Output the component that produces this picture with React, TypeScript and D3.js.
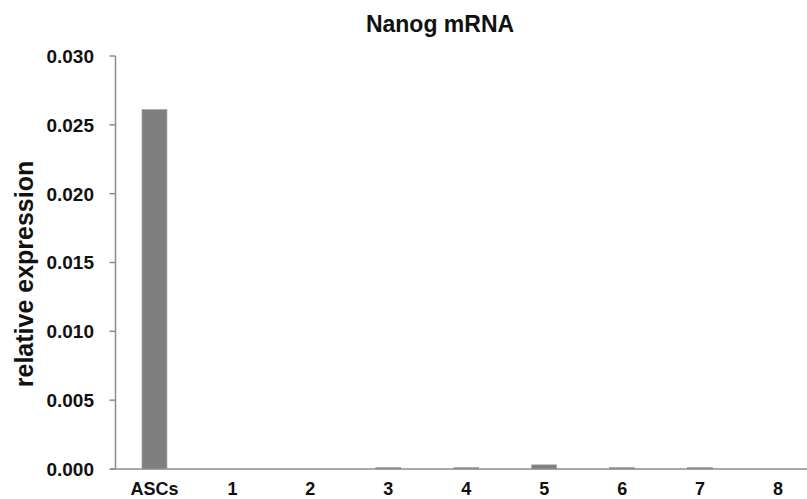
import React from 'react';
import * as d3 from 'd3';

const categories = ['ASCs', '1', '2', '3', '4', '5', '6', '7', '8'];
const values = [0.0261, 0, 0, 0.0001, 0.0001, 0.0003, 0.0001, 0.0001, 0];
const yTicks = [0, 0.005, 0.01, 0.015, 0.02, 0.025, 0.03];

const width = 807;
const height = 499;
// plot area runs a little past the right edge of the picture, like the original
const plot = { left: 115.5, right: 817, top: 56, bottom: 469 };

export default function App() {
  const x = d3
    .scaleBand()
    .domain(categories)
    .range([plot.left, plot.right])
    .paddingInner(0.68)
    .paddingOuter(0.34);
  const y = d3.scaleLinear().domain([0, 0.03]).range([plot.bottom, plot.top]);

  const font = 'Arial, "Liberation Sans", sans-serif';
  const axisColor = '#8c8c8c';

  return (
    <svg
      width={width}
      height={height}
      style={{ position: 'absolute', left: 0, top: 0, background: '#fff' }}
      fontFamily={font}
    >
      <text x={440} y={32} textAnchor="middle" fontSize={23} fontWeight="bold" fill="#111">
        Nanog mRNA
      </text>

      {/* bars */}
      {values.map((v, i) => (
        <rect
          key={'bar' + i}
          x={x(categories[i])}
          y={y(v)}
          width={x.bandwidth()}
          height={y(0) - y(v)}
          fill="#7f7f7f"
          stroke="#9a9a9a"
          strokeWidth={0.6}
        />
      ))}

      {/* y axis */}
      <line x1={plot.left} x2={plot.left} y1={y(0.03)} y2={y(0)} stroke={axisColor} strokeWidth={1.5} />
      {yTicks.map((t) => (
        <g key={'yt' + t}>
          <line x1={plot.left - 6} x2={plot.left} y1={y(t)} y2={y(t)} stroke={axisColor} strokeWidth={1.5} />
          <text
            x={94}
            y={y(t)}
            dy="0.36em"
            textAnchor="end"
            fontSize={19}
            fontWeight="bold"
            fill="#111"
          >
            {d3.format('.3f')(t)}
          </text>
        </g>
      ))}

      {/* x axis */}
      <line x1={plot.left - 5} x2={width} y1={y(0)} y2={y(0)} stroke={axisColor} strokeWidth={1.5} />
      {categories.map((c) => (
        <text
          key={'xt' + c}
          x={(x(c) as number) + x.bandwidth() / 2}
          y={495}
          textAnchor="middle"
          fontSize={18}
          fontWeight="bold"
          fill="#111"
        >
          {c}
        </text>
      ))}

      <text
        transform={`translate(33,274) rotate(-90)`}
        textAnchor="middle"
        fontSize={25}
        fontWeight="bold"
        fill="#111"
      >
        relative expression
      </text>
    </svg>
  );
}
